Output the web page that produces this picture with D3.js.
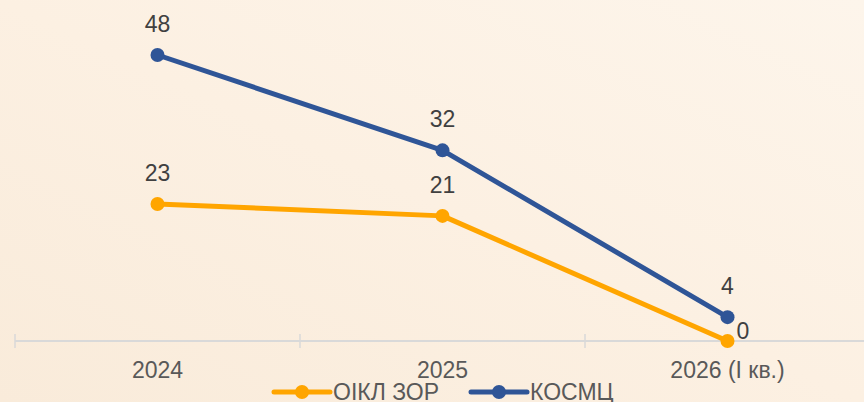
<!DOCTYPE html>
<html>
<head>
<meta charset="utf-8">
<script src="https://cdn.jsdelivr.net/npm/d3@7"></script>
<style>
  html, body { margin: 0; padding: 0; }
  body { width: 864px; height: 402px; overflow: hidden; }
  svg { display: block; font-family: "Liberation Sans", Arial, sans-serif; }
</style>
</head>
<body>
<svg id="chart" width="864" height="402"></svg>
<script>
// Chart data
const categories = ["2024", "2025", "2026 (І кв.)"];
const oiklValues = [23, 21, 0];
const kosmcValues = [48, 32, 4];
const seriesNames = ["ОІКЛ ЗОР", "КОСМЦ"];
const seriesColors = ["#ffa500", "#2f5597"];

const svg = d3.select("#chart");
const W = 864, H = 402;

// Warm background
const defs = svg.append("defs");
const bg = defs.append("linearGradient").attr("id", "bg")
  .attr("x1", "0").attr("y1", "1").attr("x2", "1").attr("y2", "0");
bg.append("stop").attr("offset", "0").attr("stop-color", "#f9ebda");
bg.append("stop").attr("offset", "0.5").attr("stop-color", "#fcf0e2");
bg.append("stop").attr("offset", "1").attr("stop-color", "#fdf5eb");
svg.append("rect").attr("width", W).attr("height", H).attr("fill", "url(#bg)");

// Scales
const x = d3.scaleBand().domain(categories).range([15, 870]).paddingInner(0).paddingOuter(0);
const y = d3.scaleLinear().domain([0, 48]).range([341, 55]);
const cx = d => x(d) + x.bandwidth() / 2;

// Category axis
const axisG = svg.append("g").attr("transform", `translate(0,${y(0)})`)
  .call(d3.axisBottom(x).tickSize(0).tickPadding(0));
axisG.select(".domain").remove();
axisG.attr("font-size", null).attr("font-family", null);
axisG.selectAll(".tick text")
  .attr("y", 37)
  .attr("dy", 0)
  .attr("fill", "#595959")
  .style("font-size", "23px");
axisG.append("line").attr("x1", 15).attr("x2", W).attr("y1", 0).attr("y2", 0)
  .attr("stroke", "#d9d9d9").attr("stroke-width", 2);
const boundaries = categories.map(c => x(c)).concat([x(categories[categories.length - 1]) + x.bandwidth()]);
axisG.selectAll("line.sep").data(boundaries).enter().append("line")
  .attr("class", "sep")
  .attr("x1", d => d).attr("x2", d => d).attr("y1", -7).attr("y2", 7)
  .attr("stroke", "#d9d9d9").attr("stroke-width", 1.5);

// Series
const series = [
  { name: seriesNames[0], values: oiklValues, color: seriesColors[0] },
  { name: seriesNames[1], values: kosmcValues, color: seriesColors[1] }
];
const line = d3.line().x((d, i) => cx(categories[i])).y(d => y(d));

series.forEach(s => {
  svg.append("path").datum(s.values)
    .attr("d", line).attr("fill", "none")
    .attr("stroke", s.color).attr("stroke-width", 5)
    .attr("stroke-linejoin", "round").attr("stroke-linecap", "round");
  svg.selectAll(null).data(s.values).enter().append("circle")
    .attr("cx", (d, i) => cx(categories[i])).attr("cy", d => y(d))
    .attr("r", 7).attr("fill", s.color);
});

// Value labels
series.forEach(s => {
  svg.selectAll(null).data(s.values).enter().append("text")
    .attr("x", (d, i) => d === 0 ? cx(categories[i]) + 9 : cx(categories[i]))
    .attr("y", d => d === 0 ? y(d) - 2 : y(d) - 23)
    .attr("text-anchor", d => d === 0 ? "start" : "middle")
    .attr("fill", "#404040")
    .style("font-size", "23px")
    .text(d => d);
});

// Legend
const legend = [
  { x: 274, textX: 333 },
  { x: 471, textX: 530 }
];
series.forEach((s, i) => {
  const g = svg.append("g");
  const lx = legend[i].x, ly = 392;
  g.append("line").attr("x1", lx).attr("x2", lx + 56).attr("y1", ly).attr("y2", ly)
    .attr("stroke", s.color).attr("stroke-width", 5).attr("stroke-linecap", "round");
  g.append("circle").attr("cx", lx + 28).attr("cy", ly).attr("r", 7).attr("fill", s.color);
  g.append("text").attr("x", legend[i].textX).attr("y", 400)
    .attr("fill", "#595959").style("font-size", "23px").text(s.name);
});
</script>
</body>
</html>
